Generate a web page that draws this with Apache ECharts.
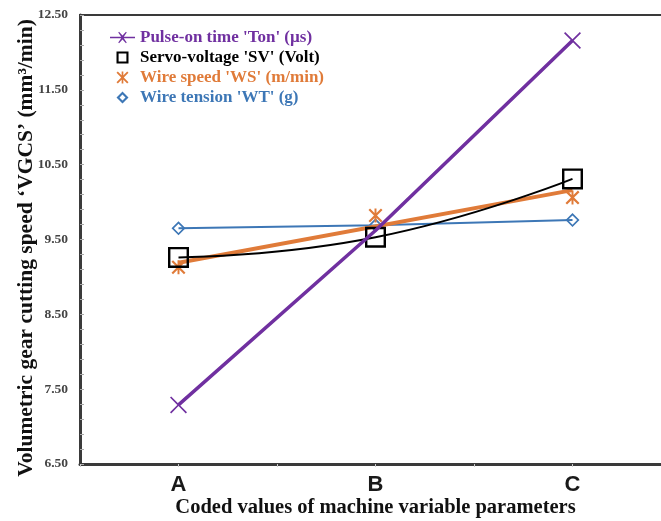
<!DOCTYPE html>
<html>
<head>
<meta charset="utf-8">
<script src="https://cdn.jsdelivr.net/npm/echarts@6/dist/echarts.min.js"></script>
<style>
  html, body { margin: 0; padding: 0; background: #fff; }
  #chart { width: 661px; height: 521px; }
</style>
</head>
<body>
<div id="chart"></div>
<script>
// Coded levels of the machine parameters
const categories = ['A', 'B', 'C'];

// Volumetric gear cutting speed (mm³/min) at each level
const tonValues = [7.29, 9.62, 12.16];   // Pulse-on time
const svValues  = [9.26, 9.53, 10.31];   // Servo-voltage
const wsValues  = [9.13, 9.82, 10.06];   // Wire speed
const wsTrend   = [9.19, 10.16];         // straight fit for wire speed, at A and C
const wtValues  = [9.65, 9.69, 9.76];    // Wire tension

// Y axis tick labels
const yTickLabels = [6.5, 7.5, 8.5, 9.5, 10.5, 11.5, 12.5];

const seriesNames = [
  "Pulse-on time 'Ton' (µs)",
  "Servo-voltage 'SV' (Volt)",
  "Wire speed 'WS' (m/min)",
  "Wire tension 'WT' (g)"
];

const PURPLE = '#7030A0';
const BLACK = '#000000';
const ORANGE = '#E07B39';
const BLUE = '#3D77B6';

// marker shapes
const crossPath = 'path://M0,1.4L1.4,0L10,8.6L18.6,0L20,1.4L11.4,10L20,18.6L18.6,20L10,11.4L1.4,20L0,18.6L8.6,10Z';
const starPath = 'path://M0,2.2L2.2,0L10,7.8L17.8,0L20,2.2L12.2,10L20,17.8L17.8,20L10,12.2L2.2,20L0,17.8L7.8,10Z M8.6,0L11.4,0L11.4,20L8.6,20Z';
const squarePath = 'path://M0,0L20,0L20,20L0,20Z M2.3,2.3L2.3,17.7L17.7,17.7L17.7,2.3Z';
const diamondPath = 'path://M10,0L20,10L10,20L0,10Z M10,3.4L3.4,10L10,16.6L16.6,10Z';
const lineCrossPath = 'path://M0,5.3L26,5.3L26,6.7L0,6.7Z M8.6,0.8L9.4,0L13,3.8L16.6,0L17.4,0.8L13.8,6L17.4,11.2L16.6,12L13,8.2L9.4,12L8.6,11.2L12.2,6Z';
const squareLegendPath = 'path://M0,0L20,0L20,20L0,20Z M3.5,3.5L3.5,16.5L16.5,16.5L16.5,3.5Z';
const diamondLegendPath = 'path://M10,0L20,10L10,20L0,10Z M10,5L5,10L10,15L15,10Z';

// minor ticks every 0.2 between the labelled values
const yMinorTicks = [];
for (let k = 0; k <= 30; k++) {
  yMinorTicks.push(+(yTickLabels[0] + k * 0.2).toFixed(2));
}

const pairs = arr => arr.map((v, i) => [i, v]);

const chart = echarts.init(document.getElementById('chart'));
chart.setOption({
  animation: false,
  backgroundColor: '#ffffff',
  grid: {
    left: 80, top: 15, right: -10, bottom: 57,
    outerBoundsMode: 'none',
    show: true, borderColor: '#3a3a3a', borderWidth: 2
  },
  legend: {
    orient: 'vertical',
    left: 110, top: 29, padding: 0,
    itemWidth: 25, itemHeight: 12, itemGap: 3,
    textStyle: { fontFamily: 'Liberation Serif', fontWeight: 'bold', fontSize: 17, lineHeight: 17 },
    data: [
      { name: seriesNames[0], icon: lineCrossPath, itemStyle: { color: PURPLE }, textStyle: { color: PURPLE } },
      { name: seriesNames[1], icon: squareLegendPath, itemStyle: { color: BLACK }, textStyle: { color: BLACK } },
      { name: seriesNames[2], icon: starPath, itemStyle: { color: ORANGE }, textStyle: { color: ORANGE } },
      { name: seriesNames[3], icon: diamondLegendPath, itemStyle: { color: BLUE }, textStyle: { color: BLUE } }
    ]
  },
  xAxis: {
    type: 'value',
    min: -0.5, max: 2.5, interval: 0.5,
    name: 'Coded values of machine variable parameters',
    nameLocation: 'middle', nameGap: 33, nameMoveOverlap: false,
    nameTextStyle: { fontFamily: 'Liberation Serif', fontWeight: 'bold', fontSize: 20.5, color: '#111' },
    axisLine: { onZero: false, lineStyle: { color: '#3a3a3a', width: 3 } },
    axisTick: { show: true, length: 3, lineStyle: { color: '#cccccc' } },
    axisLabel: {
      margin: 10,
      fontFamily: 'Liberation Sans', fontWeight: 'bold', fontSize: 22, color: '#1a1a1a',
      formatter: v => (Number.isInteger(v) && categories[v]) ? categories[v] : ''
    },
    splitLine: { show: false }
  },
  yAxis: {
    type: 'value',
    min: 6.5, max: 12.5,
    name: 'Volumetric gear cutting speed ‘VGCS’ (mm³/min)',
    nameLocation: 'middle', nameGap: 43, nameMoveOverlap: false,
    nameTextStyle: { fontFamily: 'Liberation Serif', fontWeight: 'bold', fontSize: 21.5, color: '#111', padding: [0, 0, 0, -17] },
    axisLine: { show: true, onZero: false, lineStyle: { color: '#3a3a3a', width: 3 } },
    axisTick: { show: true, inside: true, length: 4, customValues: yMinorTicks, lineStyle: { color: '#aaaaaa' } },
    axisLabel: {
      margin: 12, customValues: yTickLabels,
      fontFamily: 'Liberation Serif', fontWeight: 'bold', fontSize: 13.5, color: '#444',
      formatter: v => v.toFixed(2)
    },
    splitLine: { show: false }
  },
  series: [
    {
      name: seriesNames[3], type: 'line', data: pairs(wtValues),
      symbol: diamondPath, symbolSize: 14,
      lineStyle: { color: BLUE, width: 2 }, itemStyle: { color: BLUE }, z: 2
    },
    {
      name: 'WS fit', type: 'line', data: [[0, wsTrend[0]], [2, wsTrend[1]]],
      symbol: 'none', lineStyle: { color: ORANGE, width: 4 }, z: 3
    },
    {
      name: seriesNames[2], type: 'line', data: pairs(wsValues),
      symbol: starPath, symbolSize: 14,
      lineStyle: { width: 0, opacity: 0 }, itemStyle: { color: ORANGE }, z: 3
    },
    {
      name: seriesNames[1], type: 'line', data: pairs(svValues), smooth: 0.5,
      symbol: squarePath, symbolSize: 21,
      lineStyle: { color: BLACK, width: 2 }, itemStyle: { color: BLACK }, z: 4
    },
    {
      name: seriesNames[0], type: 'line',
      data: [[0, tonValues[0]], { value: [1, tonValues[1]], symbol: 'none' }, [2, tonValues[2]]],
      symbol: crossPath, symbolSize: 17,
      lineStyle: { color: PURPLE, width: 3.5 }, itemStyle: { color: PURPLE }, z: 5
    }
  ]
});
</script>
</body>
</html>
